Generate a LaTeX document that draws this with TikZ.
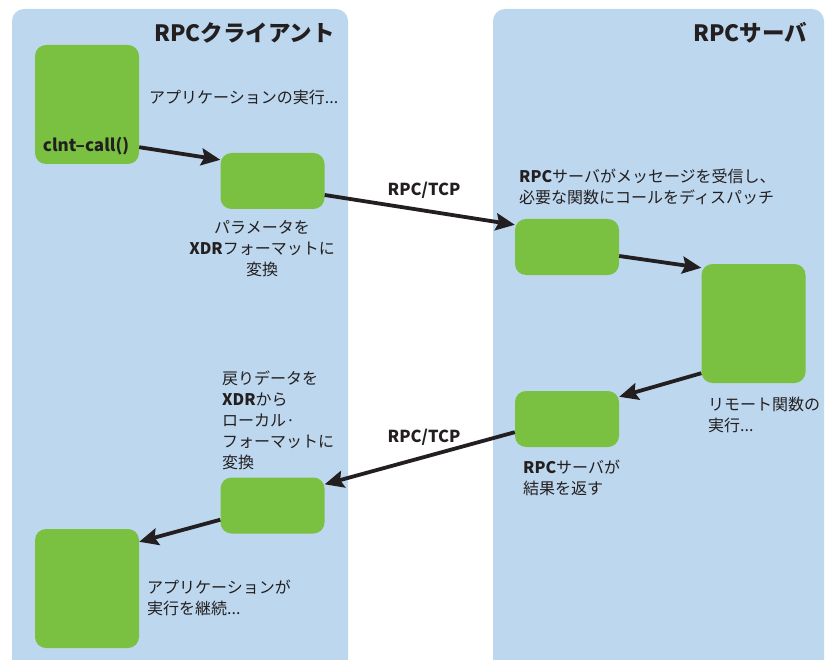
\documentclass[tikz,border=0pt]{standalone}
\usepackage{fontspec}
\setmainfont{Noto Sans CJK JP}
\usepackage{xcolor}
\usepackage{tikz}
\usetikzlibrary{arrows.meta,positioning}
\definecolor{panelblue}{RGB}{189,215,238}
\definecolor{boxgreen}{RGB}{122,193,66}
\definecolor{ink}{RGB}{35,31,32}
\tikzset{
    >={Stealth[length=19pt,width=17pt,inset=3pt]},
    panel/.style={
        fill=panelblue,
        rounded corners=12pt
    },
    stepbox/.style={
        rectangle,
        rounded corners=11pt,
        fill=boxgreen,
        minimum width=104pt,
        minimum height=56pt,
        inner sep=0pt
    },
    tallbox/.style={stepbox, minimum height=119pt},
    flow/.style={draw=ink, line width=3.8pt, ->},
    note/.style={
        inner sep=0pt,
        align=left,
        text=ink,
        font={\fontsize{16pt}{21pt}\selectfont}
    },
    headline/.style={inner sep=0pt, text=ink, font={\fontsize{22.5pt}{26pt}\selectfont\bfseries}},
    proto/.style={inner sep=0pt, text=ink, font={\fontsize{16.5pt}{20pt}\selectfont\bfseries}},
}

\begin{document}
\begin{tikzpicture}[x=1pt, y=-1pt]
\useasboundingbox (0,0) rectangle (826,660);
% panels
\fill[panel] (12,9) rectangle (348,690);
\fill[panel] (493,9) rectangle (824,690);
\node[headline, anchor=east] (clienthead) at (335,33) {RPCクライアント};
\node[headline, anchor=east] (serverhead) at (807,33) {RPCサーバ};

% client side
\node[tallbox] (app) at (87,104.5) {};
\node[proto, font={\fontsize{17pt}{20pt}\selectfont\bfseries}] (callname) at (86,146) {clnt--call()};
\node[note, anchor=west] (apptext) at (149,97) {アプリケーションの実行...};
\node[stepbox] (param) at (272.5,181) {};
\node[note, align=center] (paramtext) at (262,249) {パラメータを\\{\bfseries XDR}フォーマットに\\変換};
\node[stepbox] (conv) at (272.5,505.5) {};
\node[note, anchor=west] (convtext) at (222,420.5) {戻りデータを\\{\bfseries XDR}から\\ローカル·\\フォーマットに\\変換};
\node[tallbox] (cont) at (87,588.5) {};
\node[note, anchor=west] (conttext) at (147,598) {アプリケーションが\\実行を継続...};

% server side
\node[stepbox] (recv) at (567,247) {};
\node[note, anchor=west] (recvtext) at (519,186.5) {{\bfseries RPC}サーバがメッセージを受信し、\\必要な関数にコールをディスパッチ};
\node[tallbox] (remote) at (753.5,323.5) {};
\node[note, anchor=west] (remotetext) at (708,415) {リモート関数の\\実行...};
\node[stepbox] (ret) at (567,419) {};
\node[note, anchor=west] (rettext) at (523,477.5) {{\bfseries RPC}サーバが\\結果を返す};

\node[proto] (tcpout) at (424,190) {RPC/TCP};
\node[proto] (tcpback) at (424,437) {RPC/TCP};

\draw[flow] ([yshift=17pt]app.south east) -- ([yshift=-7pt]param.north west);
\draw[flow] ([yshift=-14pt]param.east) -- ([yshift=-6pt]recv.north west);
\draw[flow] ([yshift=-9pt]recv.east) -- ([yshift=-4pt]remote.north west);
\draw[flow] ([yshift=10pt]remote.south west) -- ([yshift=-6pt]ret.north east);
\draw[flow] ([yshift=15pt]ret.south west) -- ([yshift=-7pt]conv.north east);
\draw[flow] ([yshift=14pt]conv.south west) -- ([yshift=-13pt]cont.north east);
\end{tikzpicture}
\end{document}
